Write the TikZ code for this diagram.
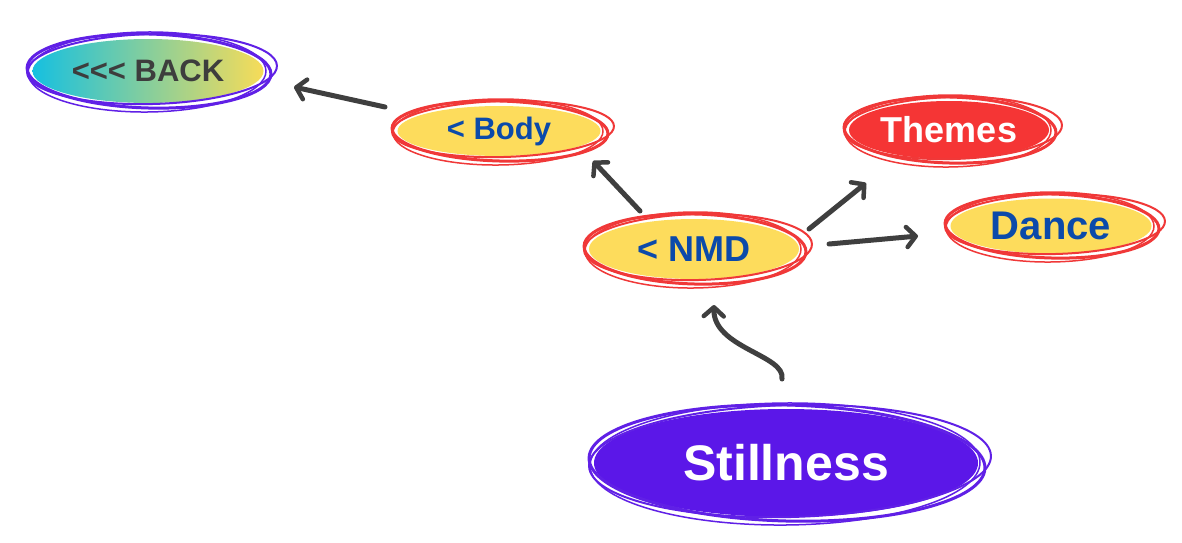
\documentclass[tikz,border=0pt]{standalone}
\usepackage{fontspec}
\setmainfont{Liberation Sans}
\usetikzlibrary{shapes.geometric,arrows.meta}
\definecolor{purpl}{HTML}{6020E6}
\definecolor{stillfill}{HTML}{5B17E8}
\definecolor{redline}{HTML}{F03838}
\definecolor{redfill}{HTML}{F53535}
\definecolor{yel}{HTML}{FDDC5C}
\definecolor{bluetext}{HTML}{0B4AAA}
\definecolor{graytext}{HTML}{3D3D3D}
\definecolor{arrowgray}{HTML}{3F3F3F}
\definecolor{cyanl}{HTML}{16C0E0}
\definecolor{yelr}{HTML}{F7DC58}
\tikzset{
  blob/.style={ellipse, inner sep=0pt, font=\bfseries},
  yelblob/.style={blob, fill=yel, text=bluetext},
  conn/.style={draw=arrowgray, line width=5pt, line cap=round,
    -{Straight Barb[length=9pt,width=20pt,line width=4.5pt,round]}},
}
\newcommand\scrib[4]{%
  \draw[#2, line width=3pt] ([shift={(1,0)}]#1.center) ellipse [x radius={#3+7}, y radius={#4+5}, rotate=-1.5];
  \draw[#2, line width=2pt] ([shift={(4,-2)}]#1.center) ellipse [x radius={#3+10}, y radius={#4+3}, rotate=1.5];
  \draw[#2, line width=1.5pt] ([shift={(-1,1)}]#1.center) ellipse [x radius={#3+4}, y radius={#4+8}, rotate=0.5];
}
\begin{document}
\begin{tikzpicture}[x=1pt,y=-1pt]
\useasboundingbox[fill=white] (0,0) rectangle (1182,542);
% nodes
\node[blob, left color=cyanl, right color=yelr, text=graytext, minimum width=231pt, minimum height=64pt,
  font=\bfseries\fontsize{31}{34}\selectfont] (back) at (148,71) {<{}<{}< BACK};
\node[yelblob, minimum width=203pt, minimum height=50pt, font=\bfseries\fontsize{31}{34}\selectfont] (body) at (499,131) {< Body};
\node[yelblob, minimum width=210pt, minimum height=60pt, font=\bfseries\fontsize{36}{40}\selectfont] (nmd) at (694,249) {< NMD};
\node[blob, fill=redfill, text=white, minimum width=200pt, minimum height=58pt, font=\bfseries\fontsize{36}{40}\selectfont] (themes) at (949,130) {Themes};
\node[yelblob, minimum width=201pt, minimum height=55pt, font=\bfseries\fontsize{40}{44}\selectfont] (dance) at (1051,226) {Dance};
\node[blob, fill=stillfill, text=white, minimum width=384pt, minimum height=108pt, font=\bfseries\fontsize{50}{56}\selectfont] (still) at (786,463) {Stillness};
% sketchy outlines
\scrib{back}{purpl}{115}{32}
\scrib{body}{redline}{101}{25}
\scrib{nmd}{redline}{104}{30}
\scrib{themes}{redline}{99}{28}
\scrib{dance}{redline}{100}{27}
\scrib{still}{purpl}{191}{53}
% arrow end points
\coordinate (bodyout) at (385,107);
\coordinate (backin) at (294,87);
\coordinate (nmdout1) at (640,211);
\coordinate (bodyin) at (593,161);
\coordinate (nmdout2) at (809,229);
\coordinate (themesin) at (866,183);
\coordinate (nmdout3) at (829,244);
\coordinate (dancein) at (918,236);
\coordinate (stillout) at (782,379);
\coordinate (nmdin) at (714,305);
% connectors
\draw[conn] (bodyout) -- (backin);
\draw[conn] (nmdout1) -- (bodyin);
\draw[conn] (nmdout2) -- (themesin);
\draw[conn] (nmdout3) -- (dancein);
\draw[conn] (stillout) .. controls (786,355) and (713,348) .. (nmdin);
\end{tikzpicture}
\end{document}
